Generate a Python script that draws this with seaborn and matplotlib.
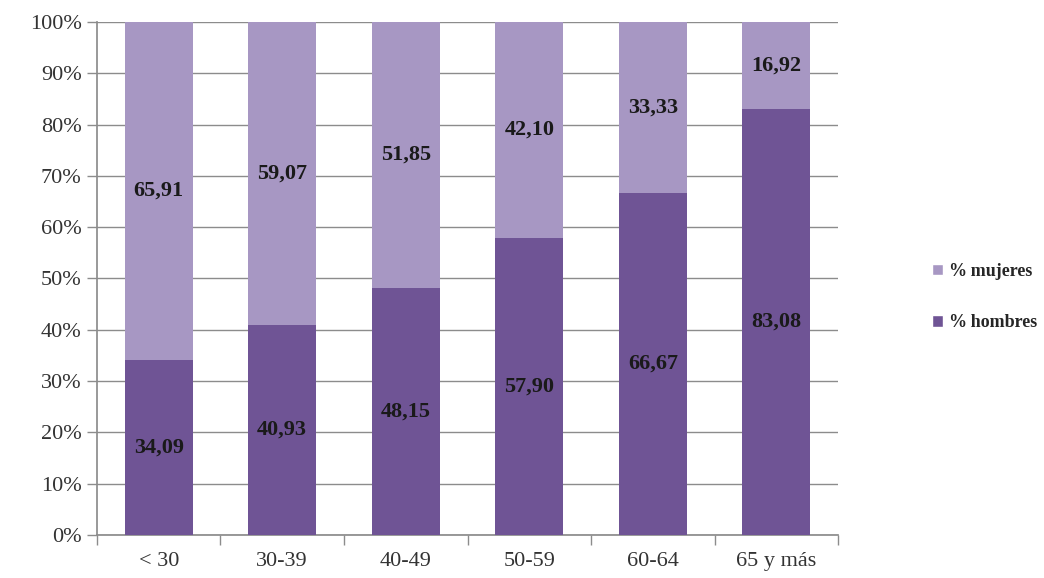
import matplotlib
matplotlib.use("Agg")
import matplotlib.pyplot as plt
import seaborn as sns
import pandas as pd
from matplotlib.patches import Patch

categorias = ["< 30", "30-39", "40-49", "50-59", "60-64", "65 y más"]
hombres = [34.09, 40.93, 48.15, 57.90, 66.67, 83.08]
mujeres = [65.91, 59.07, 51.85, 42.10, 33.33, 16.92]
ticks_y = [0, 10, 20, 30, 40, 50, 60, 70, 80, 90, 100]
leyenda = ["%\u2009mujeres", "%\u2009hombres"]

col_mujeres = "#A797C3"
col_hombres = "#6F5495"

sns.set_theme(style="white")
plt.rcParams["font.family"] = ["Liberation Serif", "DejaVu Serif"]

df = pd.DataFrame({"edad": categorias, "hombres": hombres, "mujeres": mujeres})
df["total"] = df["hombres"] + df["mujeres"]

fig = plt.figure(figsize=(10.44, 5.78), dpi=100)
ax = fig.add_axes([0.0929, 0.0744, 0.7098, 0.8876])

# stacked bars: full column (mujeres on top) behind, hombres in front
sns.barplot(data=df, x="edad", y="total", color=col_mujeres, saturation=1,
            width=0.55, ax=ax, zorder=2, linewidth=0)
sns.barplot(data=df, x="edad", y="hombres", color=col_hombres, saturation=1,
            width=0.55, ax=ax, zorder=3, linewidth=0)

for i, (h, m) in enumerate(zip(hombres, mujeres)):
    ax.text(i, h / 2, f"{h:.2f}".replace(".", ","), ha="center", va="center",
            fontsize=16, fontweight="bold", color="#1a1a1a", zorder=4)
    ax.text(i, h + m / 2, f"{m:.2f}".replace(".", ","), ha="center", va="center",
            fontsize=16, fontweight="bold", color="#1a1a1a", zorder=4)

ax.set_ylim(0, 100)
ax.set_xlim(-0.5, len(categorias) - 0.5)
ax.set_yticks(ticks_y)
ax.set_yticklabels([f"{t}%" for t in ticks_y])
ax.yaxis.grid(True, color="#8c8c8c", linewidth=1.0, zorder=0)
ax.set_axisbelow(True)
ax.set_xlabel("")
ax.set_ylabel("")

for s in ["top", "right"]:
    ax.spines[s].set_visible(False)
ax.spines["left"].set_color("#8c8c8c")
ax.spines["bottom"].set_color("#8c8c8c")

ax.tick_params(axis="y", which="major", length=7, width=1, color="#8c8c8c",
               labelsize=16, labelcolor="#333333", pad=4, left=True)
ax.tick_params(axis="x", which="major", length=0, labelsize=16,
               labelcolor="#333333", pad=12)
ax.set_xticks(range(len(categorias)))
ax.set_xticks([i + 0.5 for i in range(-1, len(categorias))], minor=True)
ax.tick_params(axis="x", which="minor", length=7, width=1, color="#8c8c8c",
               bottom=True)

handles = [Patch(facecolor=col_mujeres, label=leyenda[0]),
           Patch(facecolor=col_hombres, label=leyenda[1])]
fig.legend(handles=handles, loc="center left", bbox_to_anchor=(0.893, 0.486),
           frameon=False, prop={"weight": "bold", "size": 13},
           handlelength=0.6, handleheight=0.6, handletextpad=0.3,
           labelspacing=1.9, borderaxespad=0, borderpad=0)

fig.savefig("out.png", dpi=100)
